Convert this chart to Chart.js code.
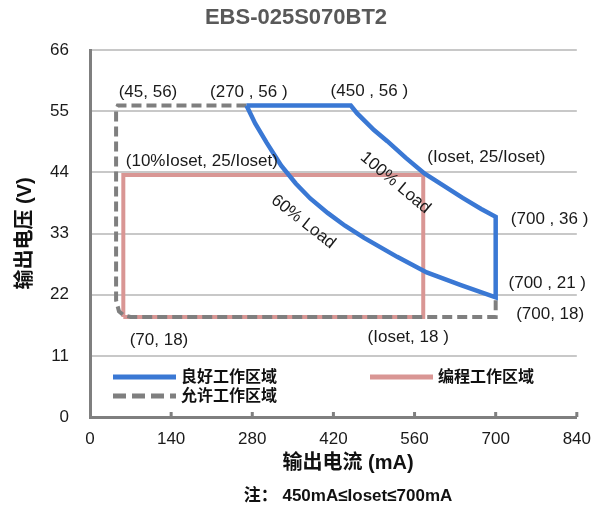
<!DOCTYPE html>
<html>
<head>
<meta charset="utf-8">
<script src="https://cdn.jsdelivr.net/npm/chart.js@4/dist/chart.umd.min.js"></script>
<style>
    html, body { margin: 0; padding: 0; background: #fff; }
    #wrap { width: 603px; height: 507px; }
</style>
</head>
<body>
<div id="wrap"><canvas id="soaChart" width="603" height="507"></canvas></div>
<script>
// 坐标轴刻度
const xTicks = [0, 140, 280, 420, 560, 700, 840];
const yTicks = [0, 11, 22, 33, 44, 55, 66];

// 良好工作区域 (mA, V)：顶边 + 100% 负载曲线 + 右边 + 60% 负载曲线
const goodX = [270, 450, 461, 490, 513, 545, 577, 610, 643, 675, 700, 700, 640, 581, 530, 473, 440, 410, 380, 355, 330, 305, 285, 270];
const goodV = [56, 56, 54.6, 51.6, 49.6, 46.6, 43.8, 41.6, 39.4, 37.4, 36, 21.5, 23.7, 26, 28.8, 32.2, 34.4, 36.7, 39.3, 42, 45.2, 49.3, 52.8, 56];

// 编程工作区域
const progX = [57.5, 57.5, 575, 575, 57.5];
const progV = [18, 43.5, 43.5, 18, 18];

// 允许工作区域
const allowX = [270, 48, 45, 45, 50, 58, 70, 700, 700];
const allowV = [56, 56, 55.3, 21, 19, 18.3, 18, 18, 21.5];

const seriesNames = ['良好工作区域', '编程工作区域', '允许工作区域'];

// 标注文字及其所在的数据坐标
const noteTexts = ['(45, 56)', '(270 , 56 )', '(450 , 56 )', '(10%Ioset, 25/Ioset)', '(Ioset, 25/Ioset)',
    '(700 , 36 )', '(700 , 21 )', '(700, 18)', '(70, 18)', '(Ioset, 18 )', '100% Load', '60% Load'];
const noteX = [100, 274, 482, 193, 684, 793, 789, 794, 119, 549, 527, 368];
const noteV = [58.4, 58.4, 58.6, 46.0, 46.7, 35.6, 24.1, 18.4, 13.8, 14.3, 42.1, 35.1];
const noteAngle = [0, 0, 0, 0, 0, 0, 0, 0, 0, 0, 40, 38];

const xTitle = '输出电流 (mA)';
const yTitle = '输出电压 (V)';
const footNote = '注： 450mA≤Ioset≤700mA';

const FONT = "'Liberation Sans', Arial, 'Noto Sans CJK SC', sans-serif";
const BLUE = '#3a78d4';
const PINK = '#d99694';
const GRAY = '#7f7f7f';

function toPoints(xs, ys) {
    return xs.map((x, i) => ({ x: x, y: ys[i] }));
}

// x 轴内侧小刻度
const innerTicks = {
    id: 'innerTicks',
    afterDraw(chart) {
        const ctx = chart.ctx;
        const xs = chart.scales.x;
        const bottom = chart.chartArea.bottom;
        ctx.save();
        ctx.strokeStyle = GRAY;
        ctx.lineWidth = 3;
        xTicks.slice(1).forEach(t => {
            const px = xs.getPixelForValue(t);
            ctx.beginPath();
            ctx.moveTo(px, bottom);
            ctx.lineTo(px, bottom - 5);
            ctx.stroke();
        });
        ctx.restore();
    }
};

// 数据点标注
const notes = {
    id: 'notes',
    afterDatasetsDraw(chart) {
        const ctx = chart.ctx;
        const xs = chart.scales.x, ys = chart.scales.y;
        ctx.save();
        ctx.font = '17px ' + FONT;
        ctx.fillStyle = '#1a1a1a';
        ctx.textAlign = 'center';
        ctx.textBaseline = 'middle';
        noteTexts.forEach((t, i) => {
            ctx.save();
            ctx.translate(xs.getPixelForValue(noteX[i]), ys.getPixelForValue(noteV[i]));
            ctx.rotate(noteAngle[i] * Math.PI / 180);
            ctx.fillText(t, 0, 0);
            ctx.restore();
        });
        ctx.restore();
    }
};

// 图例（画在绘图区内左下）
const innerLegend = {
    id: 'innerLegend',
    afterDraw(chart) {
        const ctx = chart.ctx;
        const a = chart.chartArea;
        const items = [
            { name: seriesNames[0], color: BLUE, dash: [], x: a.left + 23, y: a.bottom - 40 },
            { name: seriesNames[1], color: PINK, dash: [], x: a.left + 280, y: a.bottom - 40 },
            { name: seriesNames[2], color: GRAY, dash: [13, 6], x: a.left + 23, y: a.bottom - 21 }
        ];
        ctx.save();
        ctx.font = 'bold 16px ' + FONT;
        ctx.textBaseline = 'middle';
        items.forEach(it => {
            ctx.strokeStyle = it.color;
            ctx.lineWidth = 5;
            ctx.setLineDash(it.dash);
            ctx.beginPath();
            ctx.moveTo(it.x, it.y);
            ctx.lineTo(it.x + 63, it.y);
            ctx.stroke();
            ctx.setLineDash([]);
            ctx.fillStyle = '#111';
            ctx.fillText(it.name, it.x + 68, it.y + 1);
        });
        ctx.restore();
    }
};

// x 轴标题和底部注释
const bottomTexts = {
    id: 'bottomTexts',
    afterDraw(chart) {
        const ctx = chart.ctx;
        const a = chart.chartArea;
        const cx = a.left + 258;
        ctx.save();
        ctx.fillStyle = '#111';
        ctx.textAlign = 'center';
        ctx.textBaseline = 'middle';
        ctx.font = 'bold 20px ' + FONT;
        ctx.fillText(xTitle, cx, a.bottom + 46);
        ctx.font = 'bold 17px ' + FONT;
        ctx.fillText(footNote, cx, a.bottom + 79);
        ctx.restore();
    }
};

const ctx = document.getElementById('soaChart').getContext('2d');
const soaChart = new Chart(ctx, {
    type: 'scatter',
    data: {
        datasets: [{
            label: seriesNames[0],
            data: toPoints(goodX, goodV),
            showLine: true,
            borderColor: BLUE,
            borderWidth: 4.5,
            pointRadius: 0,
            tension: 0
        }, {
            label: seriesNames[2],
            data: toPoints(allowX, allowV),
            showLine: true,
            borderColor: GRAY,
            borderWidth: 4,
            borderDash: [10, 5],
            pointRadius: 0,
            tension: 0
        }, {
            label: seriesNames[1],
            data: toPoints(progX, progV),
            showLine: true,
            borderColor: PINK,
            borderWidth: 4,
            pointRadius: 0,
            tension: 0
        }]
    },
    options: {
        responsive: false,
        animation: false,
        layout: { autoPadding: false, padding: { left: 10, right: 21, top: 0, bottom: 0 } },
        plugins: {
            legend: { display: false },
            tooltip: { enabled: false },
            title: {
                display: true,
                text: 'EBS-025S070BT2',
                color: '#595959',
                font: { family: FONT, size: 22, weight: 'bold' },
                padding: { top: 5, bottom: 18.6 }
            }
        },
        scales: {
            x: {
                type: 'linear',
                min: 0,
                max: 840,
                afterFit: s => { s.height = 90; },
                afterBuildTicks: s => { s.ticks = xTicks.map(v => ({ value: v })); },
                ticks: {
                    color: '#1a1a1a',
                    padding: 12,
                    font: { family: FONT, size: 17 }
                },
                grid: { display: false, drawTicks: false },
                border: { color: GRAY, width: 3 }
            },
            y: {
                type: 'linear',
                min: 0,
                max: 66,
                afterFit: s => { s.width = 80; },
                afterBuildTicks: s => { s.ticks = yTicks.map(v => ({ value: v })); },
                ticks: {
                    color: '#1a1a1a',
                    padding: 21,
                    font: { family: FONT, size: 17 }
                },
                grid: {
                    color: '#c8c8c8',
                    lineWidth: 2,
                    drawTicks: false
                },
                border: { color: GRAY, width: 3 },
                title: {
                    display: true,
                    text: yTitle,
                    color: '#111',
                    font: { family: FONT, size: 20, weight: 'bold' },
                    padding: { top: 3, bottom: 0 }
                }
            }
        }
    },
    plugins: [innerTicks, notes, innerLegend, bottomTexts]
});
</script>
</body>
</html>
